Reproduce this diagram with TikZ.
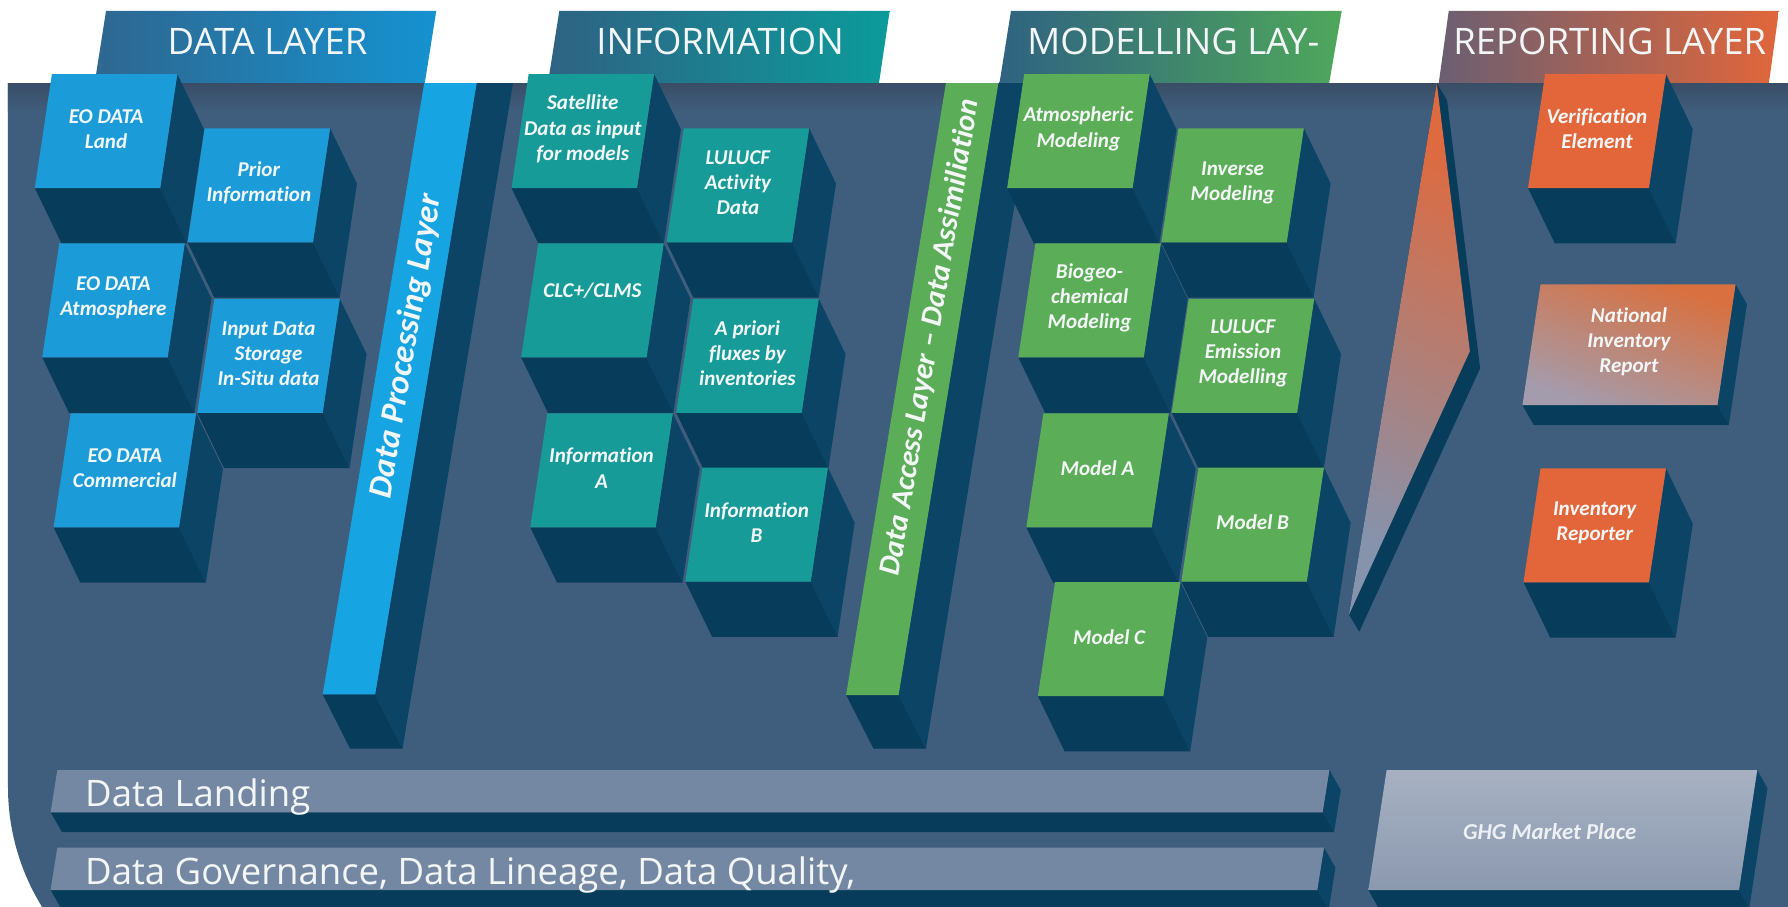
\documentclass[tikz,border=0pt]{standalone}
\usepackage{fontspec}
\setmainfont{Carlito}[Ligatures=NoCommon]
\newfontfamily\headfont{Open Sans}
\usetikzlibrary{calc}

\definecolor{panel}{HTML}{3F5E7D}
\definecolor{paneltop}{HTML}{394D66}
\definecolor{shbot}{HTML}{083C5B}
\definecolor{shside}{HTML}{0B4464}
\definecolor{cblue}{HTML}{1B9CD9}
\definecolor{cbar}{HTML}{17A4E2}
\definecolor{cteal}{HTML}{179B98}
\definecolor{cgreen}{HTML}{5CAD57}
\definecolor{corange}{HTML}{E3663A}
\definecolor{cslab}{HTML}{7588A3}
\definecolor{txt}{HTML}{F3F6F7}
\definecolor{tabdl}{HTML}{2F6790}
\definecolor{tabdr}{HTML}{1592D0}
\definecolor{tabil}{HTML}{2F6283}
\definecolor{tabir}{HTML}{0C9B9B}
\definecolor{tabml}{HTML}{2F6381}
\definecolor{tabmr}{HTML}{4FA75B}
\definecolor{tabrl}{HTML}{6A5F72}
\definecolor{tabrr}{HTML}{E1663B}
\definecolor{wedgehot}{HTML}{DE6A3F}
\definecolor{wedgecool}{HTML}{8593AD}
\definecolor{nirhot}{HTML}{D9703F}
\definecolor{nircool}{HTML}{A39CAD}
\definecolor{ghgtop}{HTML}{A7B1C2}
\definecolor{ghgbot}{HTML}{8B99AF}
\definecolor{ghgtxt}{HTML}{EDF0F4}

% extruded slab: #1 x, #2 y (top-left of front face), #3 width, #4 height,
% #5 slant, #6/#7 extrusion offset, #8 front face style
\newcommand\slab[8]{%
  \fill[sideface] (#1+#3,#2) -- ++(#6,#7) -- ++(-#5*#4,#4) -- ++(-#6,-#7) -- cycle;
  \fill[botface] (#1-#5*#4,#2+#4) -- ++(#3,0) -- ++(#6,#7) -- ++(-#3,0) -- cycle;
  \path[#8] (#1,#2) -- ++(#3,0) -- ++(-#5*#4,#4) -- ++(-#3,0) -- cycle;
}
% standard labelled cube: #1 name, #2 x, #3 y, #4 front style, #5 label
\newcommand\cube[5]{%
  \slab{#2}{#3}{110}{100}{0.15}{23.5}{48.5}{#4}
  \node[lbl] (#1) at (#2+47.5,#3+48) {#5};
}

\begin{document}
\begin{tikzpicture}[x=1pt,y=-1pt,
  sideface/.style={fill=shside},
  botface/.style={fill=shbot},
  lbl/.style={text=txt, font=\fontsize{18.5}{22}\selectfont\bfseries\itshape,
    align=center, inner sep=0pt},
  hdr/.style={text=txt, font=\headfont\fontsize{32}{36}\selectfont,
    inner sep=0pt, anchor=base},
  slablbl/.style={text=txt, font=\headfont\fontsize{32}{36}\selectfont,
    inner sep=0pt, anchor=base west},
  vlbl/.style={text=txt, rotate=80.5, inner sep=0pt}]

\useasboundingbox (0,0) rectangle (1568,795);
\fill[white] (0,0) rectangle (1568,795);

% header tabs
\shade[left color=tabdl, right color=tabdr] (93,9.5) -- (382.6,9.5) -- (372.5,73) -- (83,73) -- cycle;
\shade[left color=tabil, right color=tabir] (490.5,9.5) -- (780.2,9.5) -- (770.8,73) -- (480.5,73) -- cycle;
\shade[left color=tabml, right color=tabmr] (886.6,9.5) -- (1176.6,9.5) -- (1165.6,73) -- (876.5,73) -- cycle;
\shade[left color=tabrl, right color=tabrr] (1270.5,9.5) -- (1560,9.5) -- (1551.2,73) -- (1261.7,73) -- cycle;
\node[hdr] (hdata) at (234.6,47.6) {DATA LAYER};
\node[hdr] (hinfo) at (631.5,47.6) {INFORMATION};
\node[hdr] (hmodel) at (1029,47.6) {MODELLING LAY-};
\node[hdr] (hreport) at (1411.7,47.6) {REPORTING LAYER};

% main panel with its rounded lower-left corner
\fill[panel] (7,73) -- (7,690) .. controls (7,800.5) and (96.5,890) .. (207,890)
  -- (1568,890) -- (1568,73) -- cycle;
\shade[top color=paneltop, bottom color=panel] (7,73) rectangle (1568,98);

% data processing bar
\fill[botface] (283,609) -- (329,609) -- (353,656.5) -- (307,656.5) -- cycle;
\fill[sideface] (418,73) -- (449.9,73) -- (353,656.5) -- (329,609) -- cycle;
\fill[cbar] (372,73) -- (418,73) -- (329,609) -- (283,609) -- cycle;
\node[vlbl, font=\fontsize{29.5}{32}\selectfont\bfseries\itshape] (dpl) at (356.7,303.5) {Data Processing Layer};

% data access bar
\fill[botface] (742,609.5) -- (788,609.5) -- (812,656.5) -- (766,656.5) -- cycle;
\fill[sideface] (875.5,73) -- (907.1,73) -- (812,656.5) -- (788,609.5) -- cycle;
\fill[cgreen] (829.5,73) -- (875.5,73) -- (788,609.5) -- (742,609.5) -- cycle;
\node[vlbl, font=\fontsize{26.5}{30}\selectfont\bfseries\itshape] (dal) at (816.1,295.9) {Data Access Layer -- Data Assimiliation};

% data layer cubes
\cube{eoland}{45.5}{65}{fill=cblue}{EO DATA\\Land}
\cube{prior}{179.5}{112.5}{fill=cblue}{Prior\\Information}
\cube{eoatm}{52}{213.5}{fill=cblue}{EO DATA\\Atmosphere}
\cube{input}{188}{262}{fill=cblue}{Input Data\\Storage\\In-Situ data}
\cube{eocom}{62}{362.5}{fill=cblue}{EO DATA\\Commercial}

% information cubes
\cube{sat}{463.6}{65}{fill=cteal}{Satellite\\Data as input\\for models}
\cube{lulact}{599.6}{112.5}{fill=cteal}{LULUCF\\Activity\\Data}
\slab{472}{213.5}{110}{100}{0.15}{23.5}{48.5}{fill=cteal}
\node[lbl] (clc) at (519.5,255) {CLC+/CLMS};
\cube{apriori}{608}{262}{fill=cteal}{A priori\\fluxes by\\inventories}
\cube{infoa}{480}{362.5}{fill=cteal}{Information\\A}
\cube{infob}{616}{410}{fill=cteal}{Information\\B}

% modelling cubes
\cube{atmmod}{898.2}{65}{fill=cgreen}{Atmospheric\\Modeling}
\cube{invmod}{1033.4}{112.5}{fill=cgreen}{Inverse\\Modeling}
\cube{biogeo}{908}{213.5}{fill=cgreen}{Biogeo-\\chemical\\Modeling}
\cube{lulem}{1042.5}{262}{fill=cgreen}{LULUCF\\Emission\\Modelling}
\cube{modela}{915}{362.5}{fill=cgreen}{Model A}
\cube{modelb}{1051}{410}{fill=cgreen}{Model B}
\cube{modelc}{925.2}{510.5}{fill=cgreen}{Model C}

% wedge towards reporting
\coordinate (wa) at (1260,73);
\coordinate (wb) at (1289,308);
\coordinate (wc) at (1183,539);
\fill[botface] (wa) -- ($(wa)+(9,15)$) -- ($(wb)+(9,15)$) -- ($(wc)+(9,15)$) -- (wc) -- cycle;
\shade[top color=wedgehot, bottom color=wedgecool, shading angle=-30] (wa) -- (wb) -- (wc) -- cycle;

% reporting cubes
\slab{1355}{65}{106}{100}{0.15}{23.5}{48.5}{fill=corange}
\node[lbl] (verif) at (1400.5,113) {Verification\\Element};
\slab{1351}{249.3}{171}{106}{0.15}{10}{17.5}{top color=nirhot, bottom color=nircool, shading angle=-20}
\node[lbl] (nir) at (1428.5,300) {National\\Inventory\\Report};
\cube{invrep}{1351}{410.7}{fill=corange}{Inventory\\Reporter}

% bottom slabs
\slab{50.3}{675.3}{1115.5}{37}{0.16}{10}{17.5}{fill=cslab}
\node[slablbl] (landing) at (74.5,707) {Data Landing};
\slab{50.3}{743.3}{1110.8}{37.2}{0.16}{10}{17.5}{fill=cslab}
\node[slablbl] (governance) at (74.5,776) {Data Governance, Data Lineage, Data Quality,};
\slab{1216}{675.3}{325}{105.2}{0.152}{9}{16}{top color=ghgtop, bottom color=ghgbot}
\node[text=ghgtxt, font=\fontsize{20}{24}\selectfont\bfseries\itshape, inner sep=0pt] (ghg) at (1359,729) {GHG Market Place};

\end{tikzpicture}
\end{document}
